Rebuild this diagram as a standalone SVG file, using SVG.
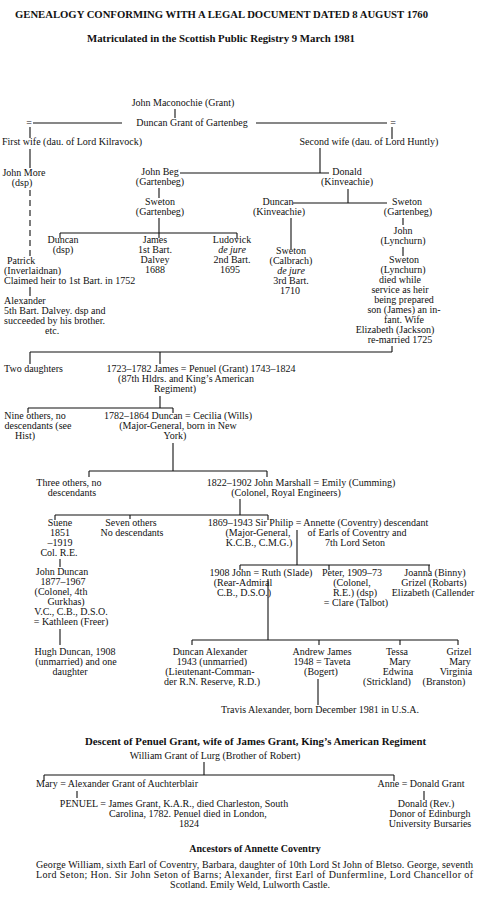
<svg xmlns="http://www.w3.org/2000/svg" width="480" height="903" viewBox="0 0 480 903">
<style>
text{font-family:"Liberation Serif","Times New Roman",serif;font-size:10px;fill:#111}
.m{text-anchor:middle}
.b{font-weight:bold}
.i{font-style:italic}
.c line{stroke:#111;stroke-width:1.1;fill:none}
.d{stroke-dasharray:6 4}
</style>
<rect width="480" height="903" fill="#fff"/>
<g id="headings">
<text class="b" x="15" y="18" textLength="413" lengthAdjust="spacingAndGlyphs">GENEALOGY CONFORMING WITH A LEGAL DOCUMENT DATED 8 AUGUST 1760</text>
<text class="b" x="87" y="42" textLength="268" lengthAdjust="spacingAndGlyphs">Matriculated in the Scottish Public Registry 9 March 1981</text>
</g>
<g class="c" id="connectors">
<line x1="175" y1="109" x2="175" y2="118"/>
<line x1="33" y1="123" x2="122" y2="123"/>
<line x1="256" y1="123" x2="387" y2="123"/>
<line x1="30" y1="127" x2="30" y2="138"/>
<line x1="392" y1="127" x2="392" y2="139"/>
<line x1="30" y1="149" x2="30" y2="168"/>
<line class="d" x1="30" y1="190" x2="30" y2="256"/>
<line x1="30" y1="287" x2="30" y2="296"/>
<line x1="180" y1="173" x2="329" y2="173"/>
<line x1="320" y1="148" x2="320" y2="173"/>
<line x1="159" y1="188" x2="159" y2="198"/>
<line x1="159" y1="218" x2="159" y2="238"/>
<line x1="60" y1="233" x2="237" y2="233"/>
<line x1="60" y1="233" x2="60" y2="238"/>
<line x1="237" y1="233" x2="237" y2="239"/>
<line x1="348" y1="189" x2="348" y2="203"/>
<line x1="293" y1="203" x2="387" y2="203"/>
<line x1="291" y1="218" x2="291" y2="249"/>
<line x1="403" y1="218" x2="403" y2="225"/>
<line x1="403" y1="247" x2="403" y2="256"/>
<line x1="30" y1="352" x2="392" y2="352"/>
<line x1="392" y1="346" x2="392" y2="352"/>
<line x1="30" y1="352" x2="30" y2="364"/>
<line x1="160" y1="352" x2="160" y2="364"/>
<line x1="160" y1="396" x2="160" y2="408"/>
<line x1="28" y1="408" x2="173" y2="408"/>
<line x1="28" y1="408" x2="28" y2="413"/>
<line x1="173" y1="408" x2="173" y2="413"/>
<line x1="173" y1="443" x2="173" y2="471"/>
<line x1="89" y1="471" x2="267" y2="471"/>
<line x1="89" y1="471" x2="89" y2="477"/>
<line x1="267" y1="471" x2="267" y2="477"/>
<line x1="240" y1="499" x2="240" y2="515"/>
<line x1="55" y1="515" x2="268" y2="515"/>
<line x1="55" y1="515" x2="55" y2="520"/>
<line x1="130" y1="515" x2="130" y2="519"/>
<line x1="268" y1="515" x2="268" y2="520"/>
<line x1="60" y1="559" x2="60" y2="567"/>
<line x1="60" y1="629" x2="60" y2="645"/>
<line x1="297" y1="530" x2="297" y2="565"/>
<line x1="240" y1="565" x2="430" y2="565"/>
<line x1="240" y1="565" x2="240" y2="570"/>
<line x1="329" y1="565" x2="329" y2="570"/>
<line x1="429" y1="565" x2="429" y2="571"/>
<line x1="268" y1="579" x2="268" y2="640"/>
<line x1="192" y1="640" x2="458" y2="640"/>
<line x1="192" y1="640" x2="192" y2="645"/>
<line x1="319" y1="640" x2="319" y2="645"/>
<line x1="400" y1="640" x2="400" y2="645"/>
<line x1="458" y1="640" x2="458" y2="645"/>
<line x1="318" y1="679" x2="318" y2="705"/>
<line x1="204" y1="762" x2="204" y2="775"/>
<line x1="44" y1="775" x2="394" y2="775"/>
<line x1="44" y1="775" x2="44" y2="781"/>
<line x1="394" y1="775" x2="394" y2="781"/>
<line x1="77" y1="791" x2="77" y2="798"/>
<line x1="424" y1="791" x2="424" y2="800"/>
</g>
<g id="n-maconochie"><text class="m" x="183" y="106">John Maconochie (Grant)</text></g>
<g id="n-duncan-gartenbeg"><text class="m" x="192" y="126">Duncan Grant of Gartenbeg</text></g>
<g id="n-eq-left"><text class="m" x="29" y="126">=</text></g>
<g id="n-eq-right"><text class="m" x="393" y="126">=</text></g>
<g id="n-first-wife"><text class="m" x="72" y="145">First wife (dau. of Lord Kilravock)</text></g>
<g id="n-second-wife"><text class="m" x="369" y="145">Second wife (dau. of Lord Huntly)</text></g>
<g id="n-john-more"><text class="m" x="24" y="176">John More</text><text class="m" x="22" y="186">(dsp)</text></g>
<g id="n-patrick"><text x="7" y="264">Patrick</text><text x="4" y="274">(Inverlaidnan)</text><text x="4" y="284">Claimed heir to 1st Bart. in 1752</text></g>
<g id="n-alexander"><text x="4" y="304">Alexander</text><text x="4" y="314">5th Bart. Dalvey. dsp and</text><text x="4" y="324">succeeded by his brother.</text><text x="45" y="334">etc.</text></g>
<g id="n-john-beg"><text class="m" x="160" y="175">John Beg</text><text class="m" x="160" y="185">(Gartenbeg)</text></g>
<g id="n-donald"><text class="m" x="347" y="175">Donald</text><text class="m" x="347" y="185">(Kinveachie)</text></g>
<g id="n-sweton-g1"><text class="m" x="160" y="205">Sweton</text><text class="m" x="160" y="215">(Gartenbeg)</text></g>
<g id="n-duncan-dsp"><text class="m" x="63" y="243">Duncan</text><text class="m" x="63" y="253">(dsp)</text></g>
<g id="n-james"><text class="m" x="155" y="243">James</text><text class="m" x="155" y="253">1st Bart.</text><text class="m" x="155" y="263">Dalvey</text><text class="m" x="155" y="273">1688</text></g>
<g id="n-ludovick"><text class="m" x="232" y="243">Ludovick</text><text class="m i" x="232" y="253">de jure</text><text class="m" x="232" y="263">2nd Bart.</text><text class="m" x="230" y="273">1695</text></g>
<g id="n-duncan-kinveachie"><text class="m" x="278" y="205">Duncan</text><text class="m" x="279" y="215">(Kinveachie)</text></g>
<g id="n-sweton-g2"><text class="m" x="407" y="205">Sweton</text><text class="m" x="408" y="215">(Gartenbeg)</text></g>
<g id="n-sweton-calbrach"><text class="m" x="291" y="254">Sweton</text><text class="m" x="291" y="264">(Calbrach)</text><text class="m i" x="291" y="274">de jure</text><text class="m" x="291" y="284">3rd Bart.</text><text class="m" x="290" y="294">1710</text></g>
<g id="n-john-lynchurn"><text class="m" x="403" y="234">John</text><text class="m" x="403" y="244">(Lynchurn)</text></g>
<g id="n-sweton-lynchurn"><text class="m" x="404" y="263">Sweton</text><text class="m" x="403" y="273">(Lynchurn)</text><text class="m" x="400" y="283">died while</text><text class="m" x="400" y="293">service as heir</text><text class="m" x="404" y="303">being prepared</text><text class="m" x="404" y="313">son (James) an in-</text><text class="m" x="404" y="323">fant. Wife</text><text class="m" x="395" y="333">Elizabeth (Jackson)</text><text class="m" x="400" y="343">re-married 1725</text></g>
<g id="n-two-daughters"><text x="4" y="372">Two daughters</text></g>
<g id="n-james-penuel"><text class="m" x="201" y="372">1723–1782 James = Penuel (Grant) 1743–1824</text><text class="m" x="186" y="382">(87th Hldrs. and King’s American</text><text class="m" x="175" y="392">Regiment)</text></g>
<g id="n-nine-others"><text class="m" x="35" y="419">Nine others, no</text><text class="m" x="38" y="429">descendants (see</text><text class="m" x="25" y="439">Hist)</text></g>
<g id="n-duncan-cecilia"><text class="m" x="178" y="419">1782–1864 Duncan = Cecilia (Wills)</text><text class="m" x="178" y="429">(Major-General, born in New</text><text class="m" x="175" y="439">York)</text></g>
<g id="n-three-others"><text class="m" x="69" y="486">Three others, no</text><text class="m" x="72" y="496">descendants</text></g>
<g id="n-john-marshall"><text class="m" x="301" y="486">1822–1902 John Marshall = Emily (Cumming)</text><text class="m" x="286" y="496">(Colonel, Royal Engineers)</text></g>
<g id="n-suene"><text class="m" x="60" y="526">Suene</text><text class="m" x="60" y="536">1851</text><text class="m" x="60" y="546">–1919</text><text class="m" x="59" y="556">Col. R.E.</text></g>
<g id="n-seven-others"><text class="m" x="131" y="526">Seven others</text><text class="m" x="132" y="536">No descendants</text></g>
<g id="n-sir-philip"><text class="m" x="318" y="526">1869–1943 Sir Philip = Annette (Coventry) descendant</text><text class="m" x="258" y="536">(Major-General,</text><text class="m" x="259" y="546">K.C.B., C.M.G.)</text><text class="m" x="357" y="536">of Earls of Coventry and</text><text class="m" x="355" y="546">7th Lord Seton</text></g>
<g id="n-john-duncan"><text class="m" x="62" y="575">John Duncan</text><text class="m" x="63" y="585">1877–1967</text><text class="m" x="61" y="595">(Colonel, 4th</text><text class="m" x="66" y="605">Gurkhas)</text><text class="m" x="71" y="615">V.C., C.B., D.S.O.</text><text class="m" x="71" y="625">= Kathleen (Freer)</text></g>
<g id="n-hugh-duncan"><text class="m" x="75" y="655">Hugh Duncan, 1908</text><text class="m" x="76" y="665">(unmarried) and one</text><text class="m" x="70" y="675">daughter</text></g>
<g id="n-john-ruth"><text class="m" x="261" y="576">1908 John = Ruth (Slade)</text><text class="m" x="243" y="586">(Rear-Admiral</text><text class="m" x="244" y="596">C.B., D.S.O.)</text></g>
<g id="n-peter"><text class="m" x="352" y="576">Peter, 1909–73</text><text class="m" x="352" y="586">(Colonel,</text><text class="m" x="355" y="596">R.E.) (dsp)</text><text class="m" x="356" y="606">= Clare (Talbot)</text></g>
<g id="n-joanna"><text class="m" x="435" y="576">Joanna (Binny)</text><text class="m" x="434" y="586">Grizel (Robarts)</text><text class="m" x="433" y="596">Elizabeth (Callender</text></g>
<g id="n-duncan-alexander"><text class="m" x="210" y="655">Duncan Alexander</text><text class="m" x="212" y="665">1943 (unmarried)</text><text class="m" x="210" y="675">(Lieutenant-Comman-</text><text class="m" x="212" y="685">der R.N. Reserve, R.D.)</text></g>
<g id="n-andrew-james"><text class="m" x="322" y="655">Andrew James</text><text class="m" x="322" y="665">1948 = Taveta</text><text class="m" x="321" y="675">(Bogert)</text></g>
<g id="n-tessa"><text class="m" x="397" y="655">Tessa</text><text class="m" x="400" y="665">Mary</text><text class="m" x="398" y="675">Edwina</text><text class="m" x="387" y="685">(Strickland)</text></g>
<g id="n-grizel"><text class="m" x="459" y="655">Grizel</text><text class="m" x="460" y="665">Mary</text><text class="m" x="456" y="675">Virginia</text><text class="m" x="444" y="685">(Branston)</text></g>
<g id="n-travis"><text class="m" x="320" y="713">Travis Alexander, born December 1981 in U.S.A.</text></g>
<g id="heading-penuel"><text class="b" x="85" y="745" textLength="341" lengthAdjust="spacingAndGlyphs">Descent of Penuel Grant, wife of James Grant, King’s American Regiment</text></g>
<g id="n-william-grant"><text class="m" x="215" y="759">William Grant of Lurg (Brother of Robert)</text></g>
<g id="n-mary"><text class="m" x="117" y="787">Mary = Alexander Grant of Auchterblair</text></g>
<g id="n-anne"><text class="m" x="421" y="787">Anne = Donald Grant</text></g>
<g id="n-penuel"><text class="m" x="174" y="807">PENUEL = James Grant, K.A.R., died Charleston, South</text><text class="m" x="188" y="817">Carolina, 1782. Penuel died in London,</text><text class="m" x="189" y="827">1824</text></g>
<g id="n-donald-rev"><text class="m" x="426" y="807">Donald (Rev.)</text><text class="m" x="430" y="817">Donor of Edinburgh</text><text class="m" x="430" y="827">University Bursaries</text></g>
<g id="heading-annette"><text class="b m" x="255" y="852">Ancestors of Annette Coventry</text></g>
<g id="annette-text">
<text x="36" y="868" textLength="437" lengthAdjust="spacing">George William, sixth Earl of Coventry, Barbara, daughter of 10th Lord St John of Bletso. George, seventh</text>
<text x="36" y="878" textLength="437" lengthAdjust="spacing">Lord Seton; Hon. Sir John Seton of Barns; Alexander, first Earl of Dunfermline, Lord Chancellor of</text>
<text class="m" x="250" y="888">Scotland. Emily Weld, Lulworth Castle.</text>
</g>
</svg>
